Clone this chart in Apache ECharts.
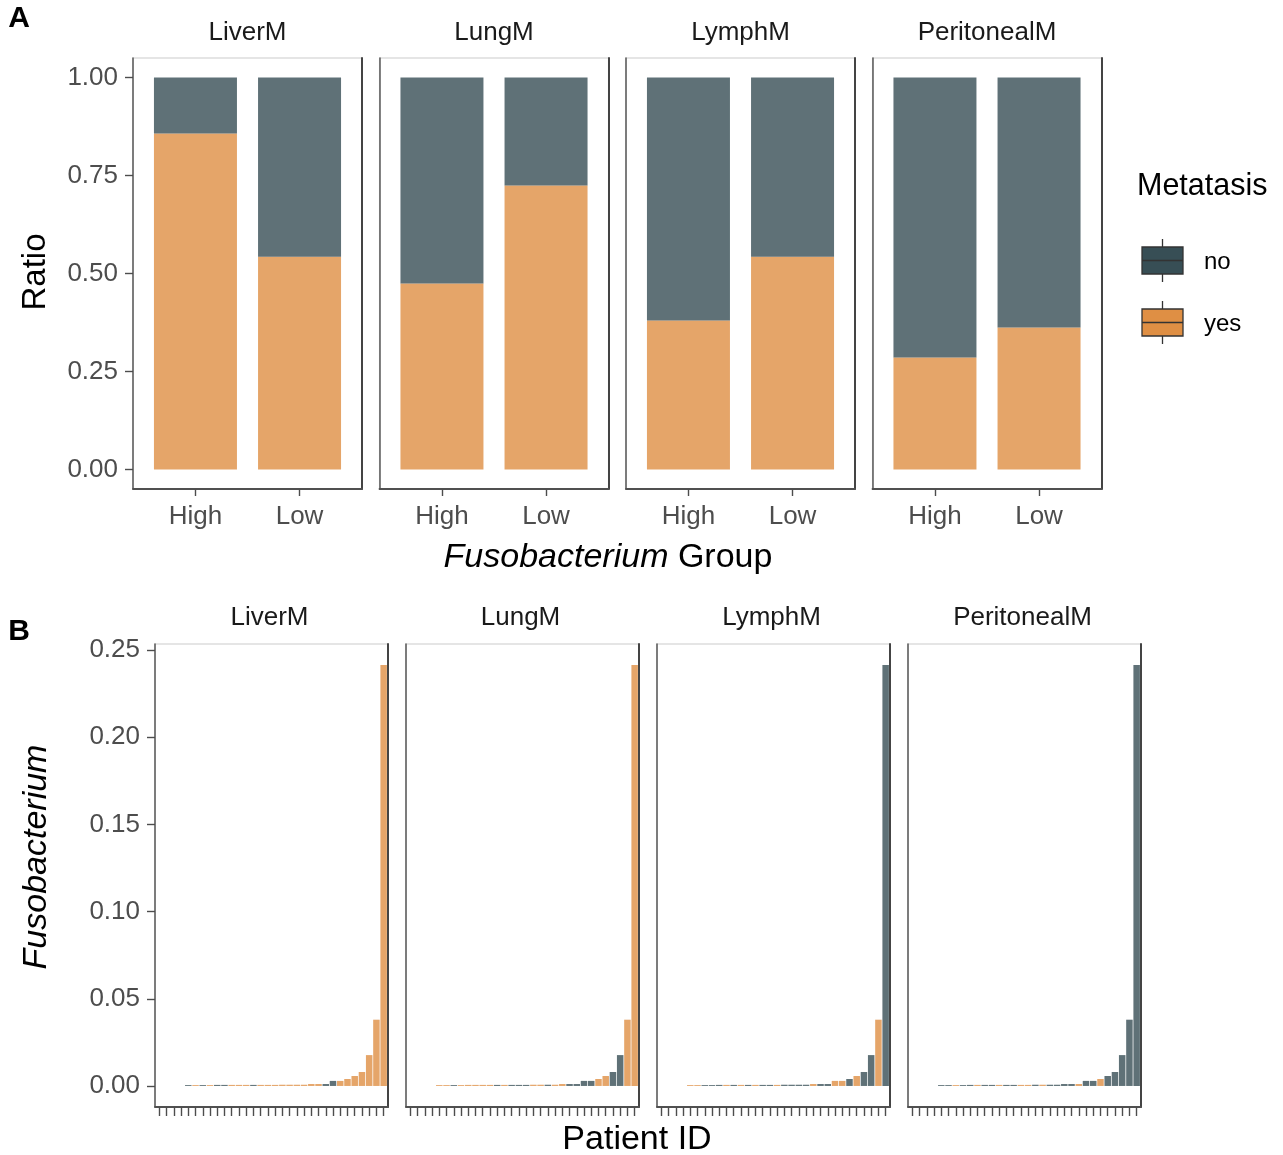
<!DOCTYPE html>
<html><head><meta charset="utf-8">
<script src="https://cdn.jsdelivr.net/npm/echarts@6/dist/echarts.min.js"></script>
<style>html,body{margin:0;padding:0;background:#fff}#c{width:1283px;height:1155px}</style>
</head><body><div id="c"></div>
<script>
// ---------- data ----------
const facets = ['LiverM', 'LungM', 'LymphM', 'PeritonealM'];
const groups = ['High', 'Low'];
const yesRatioHigh = [0.857, 0.4745, 0.380, 0.2857];
const yesRatioLow  = [0.543, 0.7245, 0.543, 0.362];
const noRatioHigh  = [0.143, 0.5255, 0.620, 0.7143];
const noRatioLow   = [0.457, 0.2755, 0.457, 0.638];
const ratioTicks = [0, 0.25, 0.5, 0.75, 1];

// Fusobacterium abundance per patient (sorted ascending)
const fusoValues = [
  0, 0, 0, 0,
  0.0005, 0.0005, 0.0005, 0.0005, 0.0006, 0.0006, 0.0006, 0.0006, 0.0006,
  0.0006, 0.0006, 0.0006, 0.0006, 0.0007, 0.0007, 0.0007, 0.0007,
  0.0011, 0.0011, 0.0011,
  0.0029, 0.0029, 0.0040, 0.0057, 0.0080, 0.0177, 0.0380, 0.2414
];
const fusoTicks = [0, 0.05, 0.10, 0.15, 0.20, 0.25];
const statusLiverM = ['no','no','no','no',
  'no','yes','no','yes','no','no','yes','yes','yes','no','yes','yes','yes','yes','yes','yes','yes','yes','yes',
  'no','no','yes','yes','yes','yes','yes','yes','yes'];
const statusLungM = ['no','no','no','no',
  'yes','yes','no','yes','yes','yes','yes','yes','no','yes','no','no','no','yes','yes','no','yes','yes','no',
  'no','no','no','yes','yes','no','no','yes','yes'];
const statusLymphM = ['no','no','no','no',
  'yes','yes','no','no','no','yes','no','yes','no','yes','no','no','yes','no','no','no','no','yes','no',
  'no','yes','yes','no','yes','no','no','yes','no'];
const statusPeritonealM = ['no','no','no','no',
  'no','no','yes','no','no','yes','no','no','yes','no','no','yes','yes','no','yes','no','no','no','no',
  'yes','no','no','yes','no','no','no','no','no'];
const statusByFacet = [statusLiverM, statusLungM, statusLymphM, statusPeritonealM];

// ---------- styles ----------
const FONT = '"Liberation Sans", Arial, Helvetica, sans-serif';
const COL_NO = '#374E55', COL_YES = '#DF8F44';
const aLeft = [133, 379.5, 626, 872.5], aTop = 58, aW = 229, aH = 431;
const bLeft = [155, 406, 657, 908], bTop = 644, bW = 233, bH = 463;

const grids = [], xAxes = [], yAxes = [], series = [];

// a framed panel: bottom/left/right axis lines + light top border
function addFrame(left, top, w, h, xMin, xMax, xTicks, yMin, yMax, yTicks, showY, xTickLen) {
  const g = grids.length;
  grids.push({left, top, width: w, height: h, show: true, borderColor: '#cccccc', borderWidth: 1.1});
  xAxes.push({
    gridIndex: g, type: 'value', min: xMin, max: xMax, z: 5,
    axisLine: {show: true, onZero: false, lineStyle: {color: '#505050', width: 1.8}},
    axisTick: xTicks ? {show: true, customValues: xTicks, length: xTickLen, lineStyle: {color: '#4d4d4d', width: 1.4}} : {show: false},
    axisLabel: {show: false},
    splitLine: {show: false}
  });
  const yi = yAxes.length;
  yAxes.push({
    gridIndex: g, type: 'value', min: yMin, max: yMax, z: 5,
    axisLine: {show: true, onZero: false, lineStyle: {color: '#5a5a5a', width: 1.5}},
    axisTick: {show: showY, customValues: yTicks, length: 8, lineStyle: {color: '#4d4d4d', width: 1.4}},
    axisLabel: {show: showY, customValues: yTicks, formatter: v => v.toFixed(2), fontSize: 26, color: '#4d4d4d', fontFamily: FONT, margin: 15},
    splitLine: {show: false}
  });
  yAxes.push({
    gridIndex: g, type: 'value', position: 'right', min: yMin, max: yMax, z: 5,
    axisLine: {show: true, onZero: false, lineStyle: {color: '#444', width: 2}},
    axisTick: {show: false}, axisLabel: {show: false}, splitLine: {show: false}
  });
  return {g, yi};
}

// Panel A: frame + inner category grid (ggplot-style 0.6 expansion on a discrete axis)
const aStep = aW / 2.2;
facets.forEach((f, i) => {
  addFrame(aLeft[i], aTop, aW, aH, 0, 1, null, -0.05, 1.05, ratioTicks, i === 0, 7);
  const g = grids.length;
  grids.push({left: aLeft[i] + 0.1 * aStep, top: aTop, width: 2 * aStep, height: aH, show: false});
  xAxes.push({
    gridIndex: g, type: 'category', data: groups, z: 5,
    axisLine: {show: false, onZero: false},
    axisTick: {show: true, alignWithLabel: true, length: 7, lineStyle: {color: '#4d4d4d', width: 1.4}},
    axisLabel: {show: true, fontSize: 26, color: '#4d4d4d', fontFamily: FONT, margin: 15},
    splitLine: {show: false}
  });
  const yi = yAxes.length;
  yAxes.push({gridIndex: g, type: 'value', min: -0.05, max: 1.05, show: false});
  series.push({
    type: 'bar', name: 'yes', xAxisIndex: xAxes.length - 1, yAxisIndex: yi, stack: 'A' + i, barWidth: 83,
    itemStyle: {color: COL_YES, opacity: 0.8}, silent: true,
    data: [yesRatioHigh[i], yesRatioLow[i]]
  });
  series.push({
    type: 'bar', name: 'no', xAxisIndex: xAxes.length - 1, yAxisIndex: yi, stack: 'A' + i, barWidth: 83,
    itemStyle: {color: COL_NO, opacity: 0.8}, silent: true,
    data: [noRatioHigh[i], noRatioLow[i]]
  });
});

// Panel B
const patientIdx = fusoValues.map((_, k) => k + 1);
const fusoMax = Math.max(...fusoValues);
facets.forEach((f, i) => {
  const p = addFrame(bLeft[i], bTop, bW, bH, 0.4, fusoValues.length + 0.6, patientIdx,
    -0.05 * fusoMax, 1.05 * fusoMax, fusoTicks, i === 0, 9);
  const st = statusByFacet[i];
  series.push({
    type: 'bar', xAxisIndex: xAxes.length - 1, yAxisIndex: p.yi, barWidth: 6.5, silent: true,
    data: fusoValues.map((v, k) => ({
      value: [k + 1, v],
      itemStyle: {color: st[k] === 'yes' ? COL_YES : COL_NO, opacity: 0.8}
    }))
  });
});

// ---------- texts & legend ----------
function txt(text, x, y, size, opts) {
  return Object.assign({
    type: 'text', x, y, silent: true,
    style: Object.assign({
      text, fontSize: size, fontFamily: FONT, fill: '#1a1a1a',
      align: 'center', verticalAlign: 'middle', textAlign: 'center', textVerticalAlign: 'middle'
    }, (opts && opts.style) || {})
  }, (opts && opts.el) || {});
}
const graphics = [];
graphics.push(txt('A', 19, 19, 30, {style: {fontWeight: 'bold', fill: '#000'}}));
graphics.push(txt('B', 19, 632, 30, {style: {fontWeight: 'bold', fill: '#000'}}));
facets.forEach((f, i) => {
  graphics.push(txt(f, aLeft[i] + aW / 2, 33, 26));
  graphics.push(txt(f, bLeft[i] + bW / 2 - 2, 618, 26));
});
graphics.push(txt('Ratio', 36, 272, 33, {el: {rotation: Math.PI / 2}, style: {fill: '#000'}}));
graphics.push(txt('Fusobacterium', 37, 857, 34, {el: {rotation: Math.PI / 2}, style: {fill: '#000', fontStyle: 'italic'}}));
graphics.push(txt('Patient ID', 637, 1140, 34, {style: {fill: '#000'}}));
graphics.push({
  type: 'text', x: 608, y: 558, silent: true,
  style: {
    text: '{i|Fusobacterium}{n| Group}', fontSize: 34, fontFamily: FONT, fill: '#000',
    align: 'center', verticalAlign: 'middle', textAlign: 'center', textVerticalAlign: 'middle',
    rich: {
      i: {fontStyle: 'italic', fontSize: 34, fontFamily: FONT, fill: '#000', color: '#000'},
      n: {fontSize: 34, fontFamily: FONT, fill: '#000', color: '#000'}
    }
  }
});
// legend
graphics.push(txt('Metatasis', 1137, 187, 30.5, {style: {align: 'left', textAlign: 'left', fill: '#000'}}));
function legendKey(y0, color, label) {
  const x0 = 1142, w = 41, h = 27, cx = x0 + w / 2;
  graphics.push({type: 'line', silent: true, shape: {x1: cx, y1: y0 - 8, x2: cx, y2: y0}, style: {stroke: '#333', lineWidth: 1.3}});
  graphics.push({type: 'line', silent: true, shape: {x1: cx, y1: y0 + h, x2: cx, y2: y0 + h + 8}, style: {stroke: '#333', lineWidth: 1.3}});
  graphics.push({type: 'rect', silent: true, shape: {x: x0, y: y0, width: w, height: h}, style: {fill: color, stroke: '#333', lineWidth: 1.3}});
  graphics.push({type: 'line', silent: true, shape: {x1: x0, y1: y0 + h / 2, x2: x0 + w, y2: y0 + h / 2}, style: {stroke: '#333', lineWidth: 1.3}});
  graphics.push(txt(label, 1204, y0 + h / 2 + 1.5, 24, {style: {align: 'left', textAlign: 'left', fill: '#000'}}));
}
legendKey(247, COL_NO, 'no');
legendKey(309, COL_YES, 'yes');

const chart = echarts.init(document.getElementById('c'), null, {renderer: 'canvas'});
chart.setOption({
  animation: false,
  backgroundColor: '#fff',
  grid: grids, xAxis: xAxes, yAxis: yAxes, series,
  graphic: {elements: graphics}
});
</script></body></html>
